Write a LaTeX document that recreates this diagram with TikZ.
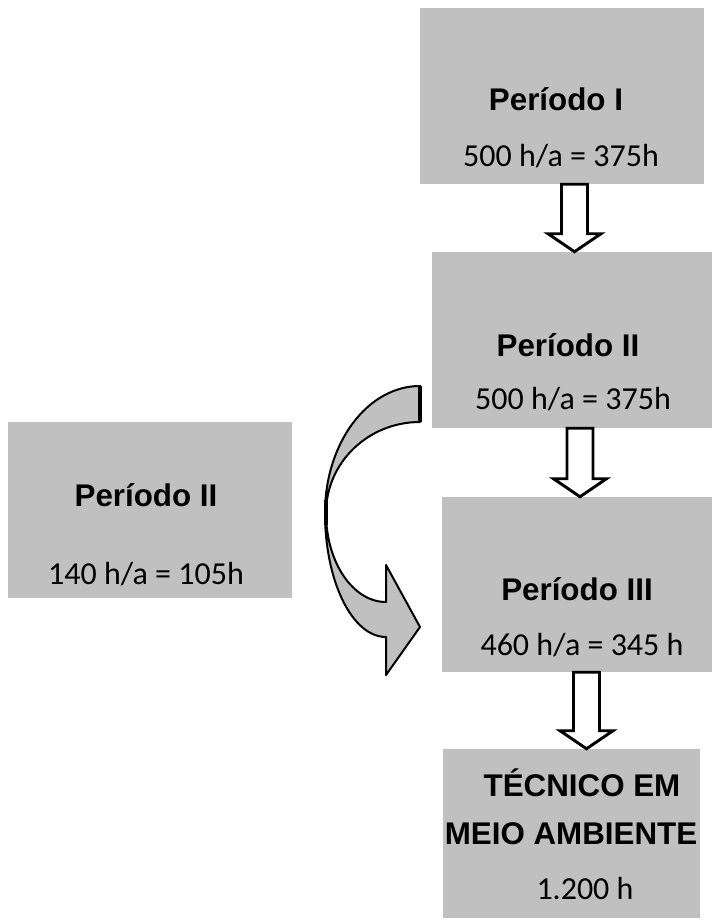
\documentclass[tikz,border=0pt]{standalone}
\usepackage{fontspec}
\setmainfont{Carlito}
\newfontfamily\arialfont{Liberation Sans}
\usetikzlibrary{calc,fit}
\definecolor{boxgray}{RGB}{192,192,192}
\tikzset{
  period/.style={fill=boxgray, inner sep=0pt},
  ttl/.style={anchor=base, inner sep=0pt, font=\arialfont\bfseries\fontsize{23.5}{28}\selectfont},
  hrs/.style={anchor=base, inner sep=0pt, font=\fontsize{24}{29}\selectfont},
  blockarr/.style={draw=black, fill=white, line width=2.2pt, line join=miter},
  curvarr/.style={draw=black, fill=boxgray, line width=1.5pt, line join=round},
}
% hollow down arrow: #1 x-coordinate, #2 from node, #3 to node
\newcommand{\blockdown}[3]{%
  \draw[blockarr] ($(#2.south -| #1)+(-13,0)$) -- ++(26,0)
    -- ($(#3.north -| #1)+(13,-18)$) -- ++(13.5,0) -- (#3.north -| #1)
    -- ++(-26.5,-18) -- ++(13.5,0) -- cycle;}

\begin{document}
\begin{tikzpicture}[x=0.75pt, y=-0.75pt]
  \useasboundingbox (0,0) rectangle (715,919);
  % --- boxes
  \node[period, fit={(420,8) (704,184)}]   (p1) {};
  \node[period, fit={(432,252) (712,428)}] (p2) {};
  \node[period, fit={(8,422) (292,598)}]   (pl) {};
  \node[period, fit={(442,497) (712,672)}] (p3) {};
  \node[period, fit={(443,749) (700,918)}] (p4) {};
  % --- texts
  \node[ttl] (p1t) at (556,111) {Período I};
  \node[hrs] (p1h) at (561,167) {500 h/a = 375h};
  \node[ttl] (p2t) at (568,356) {Período II};
  \node[hrs] (p2h) at (573,409) {500 h/a = 375h};
  \node[ttl] (plt) at (146,506) {Período II};
  \node[hrs] (plh) at (146,584) {140 h/a = 105h};
  \node[ttl] (p3t) at (577,600) {Período III};
  \node[hrs] (p3h) at (582,655) {460 h/a = 345 h};
  \node[ttl] (p4t) at (582,796) {TÉCNICO EM};
  \node[ttl] (p4m) at (571,844) {MEIO AMBIENTE};
  \node[hrs] (p4h) at (585,899) {1.200 h};
  % --- straight arrows
  \coordinate (a1) at (574.5,0);
  \coordinate (a2) at (580,0);
  \coordinate (a3) at (586.5,0);
  \blockdown{a1}{p1}{p2}
  \blockdown{a2}{p2}{p3}
  \blockdown{a3}{p3}{p4}
  % --- curved arrow
  \draw[curvarr] (420,386) .. controls (367.5,386) and (325,442.9) .. (325,513)
    .. controls (325,581.5) and (352.3,637) .. (386,637)
    -- (386,675) -- (420,627) -- (386,565) -- (386,602)
    .. controls (352.9,602) and (326,562.2) .. (326,513)
    .. controls (326,462.7) and (368.1,422) .. (420,422) -- cycle;
  \draw[line width=3pt] (420,386) -- (420,422);
  \draw[line width=3pt] (325.5,500) -- (325.5,525);
\end{tikzpicture}
\end{document}
